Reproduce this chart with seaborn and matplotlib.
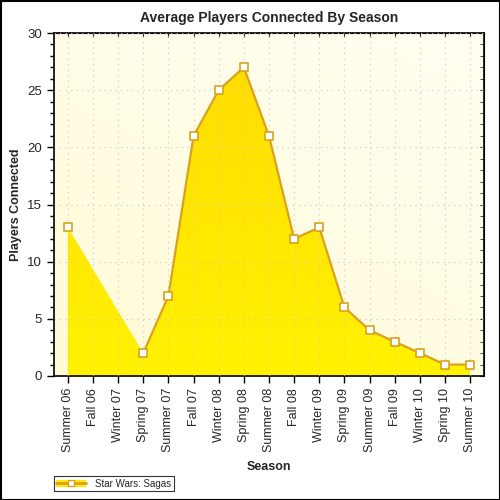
import numpy as np
import pandas as pd
import matplotlib.pyplot as plt
import seaborn as sns
from matplotlib.colors import LinearSegmentedColormap
from matplotlib.patches import Patch, Rectangle
from matplotlib.lines import Line2D
from matplotlib.legend_handler import HandlerTuple

# Data (Fall 06 and Winter 07 have no value)
seasons = ['Summer 06', 'Fall 06', 'Winter 07', 'Spring 07', 'Summer 07', 'Fall 07',
           'Winter 08', 'Spring 08', 'Summer 08', 'Fall 08', 'Winter 09', 'Spring 09',
           'Summer 09', 'Fall 09', 'Winter 10', 'Spring 10', 'Summer 10']
players = [13, np.nan, np.nan, 2, 7, 21, 25, 27, 21, 12, 13, 6, 4, 3, 2, 1, 1]
series_name = 'Star Wars: Sagas'

df = pd.DataFrame({'season': seasons, 'players': players})
df['pos'] = np.arange(len(df))
df['run'] = df['players'].isna().cumsum()  # line breaks at missing values
valid = df.dropna(subset=['players'])

sns.set_style('ticks')
plt.rcParams['font.family'] = ['Liberation Sans', 'DejaVu Sans']

line_col = '#D9A21E'
fig = plt.figure(figsize=(5, 5), dpi=100)
ax = fig.add_axes([0.108, 0.248, 0.86, 0.686])
ax.set_xlim(-0.55, len(seasons) - 0.45)
ax.set_ylim(0, 30)

# background gradient
bg = LinearSegmentedColormap.from_list('bg', ['#FFFBD6', '#FFFFF2'])
ax.imshow(np.linspace(0, 1, 256).reshape(-1, 1) * 0.6 + np.linspace(0, 1, 256).reshape(1, -1) * 0.4,
          cmap=bg, origin='lower', aspect='auto', extent=[0, 1, 0, 1],
          transform=ax.transAxes, zorder=0)

# area fill with vertical gradient, clipped to the area polygon
area = ax.fill_between(valid['pos'], valid['players'], 0, color='none', lw=0, zorder=1)
fillcm = LinearSegmentedColormap.from_list('fill', ['#FFF200', '#FFDB00'])
grad = ax.imshow(np.linspace(0, 1, 256).reshape(-1, 1), cmap=fillcm, origin='lower',
                 aspect='auto', extent=[-0.55, len(seasons) - 0.45, 0, 30], zorder=1)
grad.set_clip_path(area.get_paths()[0], transform=ax.transData)
ax.set_xlim(-0.55, len(seasons) - 0.45)
ax.set_ylim(0, 30)

sns.lineplot(data=valid, x='pos', y='players', units='run', estimator=None,
             color=line_col, lw=1.6, ax=ax, zorder=3)
sns.scatterplot(data=valid, x='pos', y='players', marker='s', s=30, color='white',
                edgecolor=line_col, linewidth=1.2, ax=ax, zorder=4)

# grid and ticks
ax.set_xticks(df['pos'])
ax.set_xticklabels(seasons, rotation=90, fontsize=9)
ax.set_yticks(range(0, 31, 5))
ax.set_yticks(range(0, 31), minor=True)
ax.tick_params(axis='y', labelsize=9.5)
ax.grid(True, which='major', color='#C8C8C8', ls=(0, (1, 4)), lw=0.8, zorder=0.5)
ax.set_axisbelow(False)
for gl in ax.get_xgridlines() + ax.get_ygridlines():
    gl.set_zorder(0.5)
ax.tick_params(which='major', direction='out', length=5, width=1, color='black')
ax.tick_params(which='minor', direction='out', length=3, width=1, color='black')
ax.tick_params(axis='x', which='minor', bottom=False)
for sp in ax.spines.values():
    sp.set_linewidth(1.2)
    sp.set_color('black')

# inward ticks on top and right
ax2 = ax.secondary_xaxis('top')
ax2.set_xticks(df['pos'])
ax2.tick_params(direction='in', length=3, labeltop=False)
ay2 = ax.secondary_yaxis('right')
ay2.set_yticks(range(0, 31, 5))
ay2.set_yticks(range(0, 31), minor=True)
ay2.tick_params(which='both', direction='in', length=3, labelright=False)

ax.set_title('Average Players Connected By Season', fontsize=10, fontweight='bold', pad=8)
ax.set_xlabel('Season', fontsize=9, fontweight='bold', labelpad=6)
ax.set_ylabel('Players Connected', fontsize=9, fontweight='bold', labelpad=4)

# legend at bottom left
h = (Patch(facecolor='#FFE800', edgecolor='none'),
     Line2D([], [], color=line_col, lw=2, marker='s', markersize=5,
            markerfacecolor='white', markeredgecolor=line_col))
leg = fig.legend([h], [series_name], handler_map={tuple: HandlerTuple(ndivide=1)},
                 loc='lower left', bbox_to_anchor=(0.108, 0.018), fontsize=7,
                 frameon=True, fancybox=False, borderpad=0.25, handlelength=3,
                 handletextpad=1.0, borderaxespad=0)
leg.get_frame().set_edgecolor('black')
leg.get_frame().set_linewidth(0.8)

# outer border
fig.patches.append(Rectangle((0.001, 0.001), 0.998, 0.998, transform=fig.transFigure,
                             fill=False, edgecolor='black', lw=1.5))

fig.savefig('out.png', dpi=100)
